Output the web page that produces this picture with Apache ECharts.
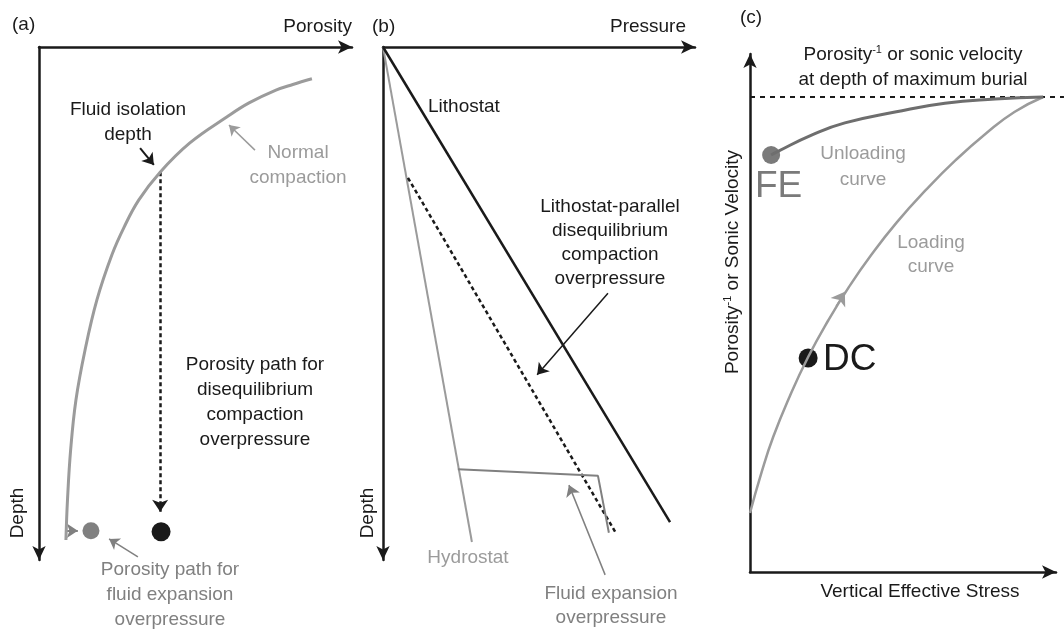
<!DOCTYPE html>
<html>
<head>
<meta charset="utf-8">
<script src="https://cdn.jsdelivr.net/npm/echarts@6.0.0/dist/echarts.min.js"></script>
<style>
  html, body { margin: 0; padding: 0; background: #fff; }
  #chart { width: 1064px; height: 633px; }
</style>
</head>
<body>
<div id="chart"></div>
<script>
// all panels use arbitrary 0-100 units on both axes

// (a) porosity vs depth
var compactionA = [[87.2,6.2],[81.1,7.3],[75.7,8.4],[67.1,10.9],[60.1,13.6],[48.2,18.7],[38.7,24.4],[31.9,29.8],
                   [27.2,35.1],[23.3,40.5],[18.5,49.3],[14.7,59.1],[11.8,68.8],[10.1,78.6],[9.1,88.3],[8.6,96.1]];
var dcPathA = [[38.7,24.4],[38.7,90.6]];
var fePathA = [[8.6,94.3],[12.4,94.3]];
var dcPointA = [[39.0,94.5]];
var fePointA = [[16.6,94.3]];
var isolationArrowA = [[32.3,19.7],[36.7,23.0]];
var normalArrowA = [[69.0,20.1],[60.7,15.2]];
var feArrowA = [[31.6,99.4],[22.4,95.9]];

// (b) pressure vs depth
var lithostatB = [[0,0],[92.0,92.6]];
var hydrostatB = [[0,0],[28.5,96.5]];
var dcLineB = [[8.0,25.5],[74.4,94.5]];
var fePathB = [[24.0,82.3],[68.9,83.6],[72.4,94.7]];
var dcArrowB = [[72.1,48.0],[49.4,63.9]];
var feArrowB = [[71.2,102.9],[59.6,85.4]];

// (c) vertical effective stress vs porosity^-1
var loadingC = [[0,11.4],[3.7,19.1],[7.6,26.1],[12.9,33.8],[19.0,41.5],[25.6,48.6],[32.3,55.0],
                [39.6,61.2],[48.1,67.6],[57.4,73.7],[67.2,79.5],[77.2,84.7],[86.4,88.8],[95.8,91.7]];
var unloadingC = [[6.9,80.5],[8.8,81.1],[20.3,84.4],[31.0,86.7],[47.4,88.8],[63.7,90.5],[80.1,91.3],[95.8,91.7]];
var maxBurialC = [[0,91.7],[102.6,91.7]];
var loadArrowC = [[28.1,51.4],[31.0,54.1]];
var fePointC = [[6.9,80.5]];
var dcPointC = [[19.0,41.3]];

var FONT = '"Liberation Sans", Arial, Helvetica, sans-serif';
var BLACK = '#1a1a1a';
var LGRAY = '#9b9b9b';
var MGRAY = '#808080';

var chart = echarts.init(document.getElementById('chart'));

function axisLine(arrowAt) {
  return {
    show: true, onZero: false,
    symbol: arrowAt, symbolSize: [10, 14],
    lineStyle: { color: BLACK, width: 2.5 }
  };
}
function makeAxis(idx, pos, inverse, arrowAt) {
  return {
    type: 'value', gridIndex: idx, min: 0, max: 100, position: pos, inverse: inverse,
    axisLine: axisLine(arrowAt), axisTick: { show: false },
    axisLabel: { show: false }, splitLine: { show: false }
  };
}
function curve(idx, data, color, width, smooth, dash) {
  return {
    type: 'line', xAxisIndex: idx, yAxisIndex: idx, data: data, smooth: smooth,
    symbol: 'none', clip: false, silent: true,
    lineStyle: { color: color, width: width, type: dash || 'solid' }
  };
}
function arrow(idx, pts, color, width, size, dash) {
  return {
    type: 'lines', coordinateSystem: 'cartesian2d', xAxisIndex: idx, yAxisIndex: idx,
    symbol: ['none', 'arrow'], symbolSize: size, silent: true, clip: false,
    lineStyle: { color: color, width: width, opacity: 1, type: dash || 'solid' },
    data: [{ coords: pts }]
  };
}
function dot(idx, data, color, size) {
  return {
    type: 'scatter', xAxisIndex: idx, yAxisIndex: idx, data: data, symbolSize: size,
    silent: true, itemStyle: { color: color, opacity: 1 }
  };
}
function txt(x, y, s, o) {
  o = o || {};
  return {
    type: 'text', x: x, y: y, rotation: o.rot || 0, silent: true,
    style: {
      text: s, fill: o.color || BLACK, fontSize: o.size || 19, fontFamily: FONT,
      align: o.align || 'center', textAlign: o.align || 'center',
      verticalAlign: 'middle', textVerticalAlign: 'middle',
      lineHeight: o.lh || 25, rich: o.rich
    }
  };
}
var supRich = { sup: { fontSize: 11, fontFamily: FONT, verticalAlign: 'middle', padding: [0, 0, 10, 0] } };

var option = {
  animation: false,
  grid: [
    { left: 39, top: 47, width: 313, height: 513, outerBoundsMode: 'none' },
    { left: 383, top: 47, width: 312, height: 513, outerBoundsMode: 'none' },
    { left: 750, top: 54, width: 306, height: 518, outerBoundsMode: 'none' }
  ],
  xAxis: [
    makeAxis(0, 'top', false, ['none', 'arrow']),
    makeAxis(1, 'top', false, ['none', 'arrow']),
    makeAxis(2, 'bottom', false, ['none', 'arrow'])
  ],
  yAxis: [
    makeAxis(0, 'left', true, ['arrow', 'none']),
    makeAxis(1, 'left', true, ['arrow', 'none']),
    makeAxis(2, 'left', false, ['none', 'arrow'])
  ],
  series: [
    // (a)
    curve(0, compactionA, LGRAY, 3, 0.4),
    arrow(0, dcPathA, BLACK, 2.5, [10, 12], [4, 3]),
    arrow(0, fePathA, MGRAY, 2, [9, 11]),
    arrow(0, isolationArrowA, BLACK, 2, [9, 11]),
    arrow(0, normalArrowA, LGRAY, 1.5, [8, 10]),
    arrow(0, feArrowA, MGRAY, 1.5, [8, 10]),
    dot(0, dcPointA, BLACK, 19),
    dot(0, fePointA, MGRAY, 17),
    // (b)
    curve(1, hydrostatB, LGRAY, 2, false),
    curve(1, lithostatB, BLACK, 2.5, false),
    curve(1, dcLineB, BLACK, 2.5, false, [4, 3]),
    curve(1, fePathB, MGRAY, 2, false),
    arrow(1, dcArrowB, BLACK, 1.5, [8, 11]),
    arrow(1, feArrowB, MGRAY, 1.5, [8, 11]),
    // (c)
    {
      type: 'lines', coordinateSystem: 'cartesian2d', xAxisIndex: 2, yAxisIndex: 2,
      symbol: 'none', silent: true, clip: false,
      lineStyle: { color: BLACK, width: 2, opacity: 1, type: [5, 5] },
      data: [{ coords: maxBurialC }]
    },
    curve(2, loadingC, LGRAY, 2.5, 0.5),
    curve(2, unloadingC, '#6e6e6e', 3, 0.5),
    arrow(2, loadArrowC, LGRAY, 1, [10, 13]),
    dot(2, fePointC, '#7a7a7a', 18),
    dot(2, dcPointC, BLACK, 19)
  ],
  graphic: [
    // (a)
    txt(12, 25, '(a)', { align: 'left' }),
    txt(352, 27, 'Porosity', { align: 'right' }),
    txt(128, 122, 'Fluid isolation\ndepth'),
    txt(298, 165, 'Normal\ncompaction', { color: LGRAY }),
    txt(255, 402, 'Porosity path for\ndisequilibrium\ncompaction\noverpressure'),
    txt(170, 595, 'Porosity path for\nfluid expansion\noverpressure', { color: MGRAY }),
    txt(18, 513, 'Depth', { rot: Math.PI / 2 }),
    // (b)
    txt(372, 27, '(b)', { align: 'left' }),
    txt(686, 27, 'Pressure', { align: 'right' }),
    txt(428, 107, 'Lithostat', { align: 'left' }),
    txt(610, 243, 'Lithostat-parallel\ndisequilibrium\ncompaction\noverpressure', { lh: 24 }),
    txt(468, 558, 'Hydrostat', { color: LGRAY }),
    txt(611, 606, 'Fluid expansion\noverpressure', { color: MGRAY, lh: 24 }),
    txt(368, 513, 'Depth', { rot: Math.PI / 2 }),
    // (c)
    txt(740, 18, '(c)', { align: 'left' }),
    txt(913, 67, 'Porosity{sup|-1} or sonic velocity\nat depth of maximum burial', { rich: supRich }),
    txt(863, 167, 'Unloading\ncurve', { color: LGRAY, lh: 26 }),
    txt(931, 255, 'Loading\ncurve', { color: LGRAY, lh: 24 }),
    txt(755, 187, 'FE', { color: '#7a7a7a', size: 37, align: 'left', lh: 40 }),
    txt(823, 360, 'DC', { size: 37, align: 'left', lh: 40 }),
    txt(733, 262, 'Porosity{sup|-1} or Sonic Velocity', { rot: Math.PI / 2, rich: supRich }),
    txt(920, 592, 'Vertical Effective Stress')
  ]
};
chart.setOption(option);
</script>
</body>
</html>
